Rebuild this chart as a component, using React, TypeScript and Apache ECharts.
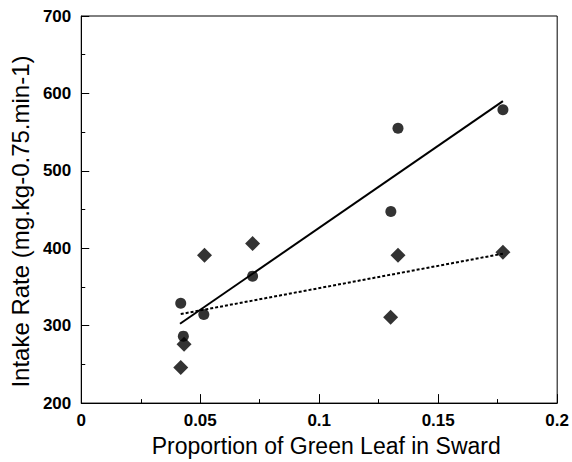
import React, { useEffect, useRef } from "react";
import * as echarts from "echarts";

const circleX = [0.0418, 0.0429, 0.0515, 0.072, 0.1301, 0.1331, 0.1772];
const circleY = [329, 286.5, 314.5, 364, 447.5, 555, 579];
const diamondX = [0.0418, 0.0432, 0.0518, 0.072, 0.130, 0.1331, 0.1772];
const diamondY = [246, 276, 391, 406, 311, 391, 395];
const solidFitX = [0.0415, 0.1772];
const solidFitY = [302.5, 590];
const dottedFitX = [0.0418, 0.1772];
const dottedFitY = [315, 393];
const xTicks = [0, 0.05, 0.1, 0.15, 0.2];
const xTickLabels = ["0", "0.05", "0.1", "0.15", "0.2"];

const zip = (a: number[], b: number[]) => a.map((v, i) => [v, b[i]]);

export default function App() {
  const ref = useRef<HTMLDivElement>(null);
  useEffect(() => {
    if (!ref.current) return;
    const chart = echarts.init(ref.current, null, { renderer: "svg" });
    const font = "Liberation Sans, Arial, sans-serif";
    chart.setOption({
      animation: false,
      backgroundColor: "#fff",
      grid: {
        left: 78,
        right: 14,
        top: 16,
        bottom: 53,
        show: true,
        borderColor: "#000",
        borderWidth: 1,
      },
      xAxis: {
        type: "value",
        min: 0,
        max: 0.2,
        interval: 0.05,
        name: "Proportion of Green Leaf in Sward",
        nameLocation: "middle",
        nameGap: 28,
        nameTextStyle: {
          fontFamily: font,
          fontSize: 23,
          fontWeight: "normal",
          color: "#000",
          padding: [0, 0, 0, 14],
        },
        axisLine: { show: true, lineStyle: { color: "#000", width: 1 } },
        axisTick: { show: true, inside: true, length: 9, lineStyle: { color: "#000" } },
        minorTick: { show: true, splitNumber: 2, length: 4, lineStyle: { color: "#000" } },
        splitLine: { show: false },
        axisLabel: {
          margin: 9,
          fontFamily: font,
          fontSize: 17,
          fontWeight: "bold",
          color: "#000",
          formatter: (v: number) => {
            const i = xTicks.findIndex((t) => Math.abs(t - v) < 1e-9);
            return i >= 0 ? xTickLabels[i] : "";
          },
        },
      },
      yAxis: {
        type: "value",
        min: 200,
        max: 700,
        interval: 100,
        name: "Intake Rate (mg.kg-0.75.min-1)",
        nameLocation: "middle",
        nameGap: 49,
        nameTextStyle: {
          fontFamily: font,
          fontSize: 24,
          fontWeight: "normal",
          color: "#000",
          padding: [0, 24, 0, 0],
        },
        axisLine: { show: true, lineStyle: { color: "#000", width: 1 } },
        axisTick: { show: true, inside: true, length: 8, lineStyle: { color: "#000" } },
        minorTick: { show: true, splitNumber: 2, length: 4, lineStyle: { color: "#000" } },
        splitLine: { show: false },
        axisLabel: {
          margin: 10,
          fontFamily: font,
          fontSize: 17,
          fontWeight: "bold",
          color: "#000",
        },
      },
      series: [
        {
          type: "line",
          data: zip(solidFitX, solidFitY),
          symbol: "none",
          lineStyle: { color: "#000", width: 2 },
        },
        {
          type: "line",
          data: zip(dottedFitX, dottedFitY),
          symbol: "none",
          lineStyle: { color: "#000", width: 2, type: [3, 2] },
        },
        {
          type: "scatter",
          data: zip(circleX, circleY),
          symbol: "circle",
          symbolSize: 11,
          itemStyle: { color: "#000" },
        },
        {
          type: "scatter",
          data: zip(diamondX, diamondY),
          symbol: "diamond",
          symbolSize: [15, 15],
          itemStyle: { color: "#000" },
        },
      ],
    });
    return () => chart.dispose();
  }, []);
  return (
    <div
      ref={ref}
      style={{ position: "fixed", left: 0, top: 0, width: 572, height: 462 }}
    />
  );
}
